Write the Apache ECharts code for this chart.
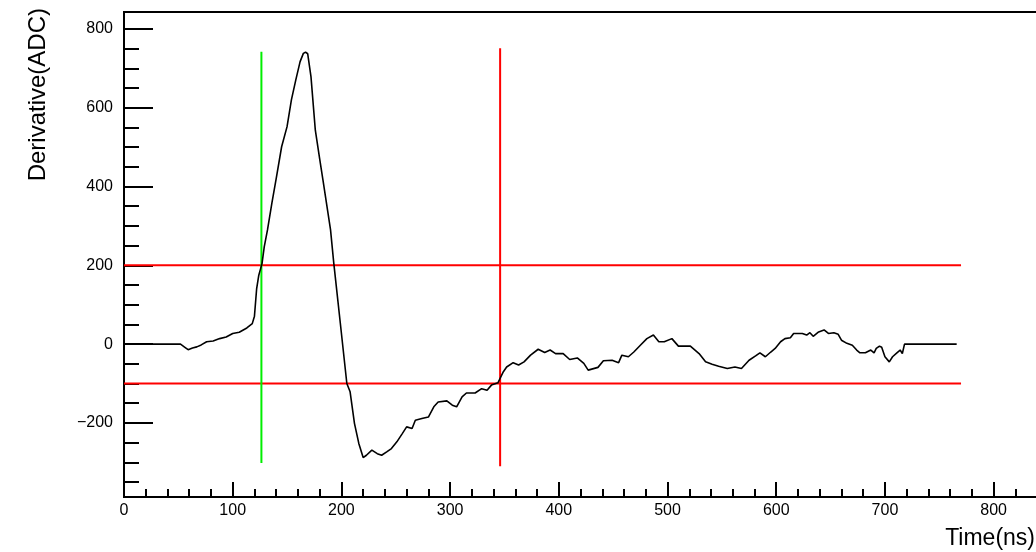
<!DOCTYPE html>
<html>
<head>
<meta charset="utf-8">
<title>Derivative</title>
<script src="https://cdn.jsdelivr.net/npm/echarts@6.0.0/dist/echarts.min.js"></script>
<style>
  html, body { margin: 0; padding: 0; background: #fff; }
  #chart { width: 1036px; height: 552px; }
</style>
</head>
<body>
<div id="chart"></div>
<script>
// derivative waveform
const timeNs = [
  0, 52, 56, 59, 63, 67, 71, 76, 82, 88, 94, 100, 106, 113, 118, 120, 122, 124, 127, 129,
  132, 136, 140, 145, 150, 154, 158, 162, 165, 167, 169, 172, 176, 180, 183, 190, 193, 199, 205, 208,
  212, 216, 220, 223, 228, 233, 237, 242, 246, 251, 256, 260, 265, 268, 274, 280, 285, 289, 297, 302,
  306, 311, 315, 323, 329, 334, 338, 344, 349, 352, 358, 363, 368, 374, 381, 387, 392, 397, 404, 410,
  417, 423, 427, 436, 441, 449, 455, 458, 464, 469, 475, 481, 487, 492, 497, 504, 510, 521, 529, 535,
  541, 547, 555, 562, 568, 575, 581, 585, 590, 595, 599, 604, 608, 613, 616, 624, 628, 631, 634, 639,
  644, 648, 653, 657, 660, 665, 670, 674, 677, 682, 687, 690, 692, 695, 697, 700, 704, 707, 711, 714,
  716, 718, 766
];
const derivative = [
  0, 0, -8, -14, -10, -7, -2, 6, 8, 14, 18, 27, 30, 41, 52, 71, 140, 175, 205, 247,
  290, 357, 420, 501, 552, 620, 670, 717, 738, 741, 737, 679, 543, 470, 417, 290, 205, 53, -100, -121,
  -201, -252, -288, -282, -269, -278, -282, -273, -265, -248, -227, -210, -214, -193, -189, -185, -159, -147, -144, -155,
  -159, -134, -124, -124, -113, -117, -104, -98, -70, -58, -47, -53, -45, -28, -13, -21, -15, -24, -24, -39,
  -35, -49, -66, -59, -42, -41, -47, -28, -32, -20, -3, 14, 23, 6, 6, 14, -5, -5, -24, -45,
  -51, -56, -62, -58, -62, -41, -30, -22, -32, -20, -11, 6, 14, 16, 27, 27, 23, 29, 20, 31,
  36, 27, 29, 25, 10, 2, -3, -15, -22, -22, -15, -22, -11, -5, -8, -32, -45, -32, -22, -15,
  -24, 0, 0
];

// threshold / marker lines
const thresholdHigh = [[0, 200], [770, 200]];
const thresholdLow = [[0, -100], [770, -100]];
const startMarker = [[126.4, -302], [126.4, 742]];
const endMarker = [[346, -310], [346, 751]];

// axis ticks
const xLabels = [0, 100, 200, 300, 400, 500, 600, 700, 800];
const yLabels = [-200, 0, 200, 400, 600, 800];
const yMinor = [-350, -300, -250, -150, -100, -50, 50, 100, 150, 250, 300, 350,
  450, 500, 550, 650, 700, 750];

const X_MIN = 0, X_MAX = 850;
const Y_MIN = -388, Y_MAX = 843;

const xMinor = [];
for (let v = 20; v < X_MAX; v += 20) {
  if (v % 100 !== 0) xMinor.push(v);
}

const FONT = '"Liberation Sans", Arial, Helvetica, sans-serif';
const chart = echarts.init(document.getElementById('chart'), null, { renderer: 'canvas' });

const option = {
  animation: false,
  backgroundColor: '#fff',
  grid: {
    left: 124,
    top: 12,
    width: 924,
    height: 485,
    outerBoundsMode: 'none',
    containLabel: false,
    show: true,
    borderColor: '#000',
    borderWidth: 2,
    backgroundColor: 'transparent'
  },
  xAxis: [
    {
      type: 'value',
      min: X_MIN,
      max: X_MAX,
      position: 'bottom',
      axisLine: { onZero: false, lineStyle: { color: '#000', width: 2 } },
      axisTick: { inside: true, length: 15, customValues: xLabels, lineStyle: { color: '#000', width: 2 } },
      axisLabel: { customValues: xLabels, margin: 6, color: '#000', fontSize: 16, fontFamily: FONT },
      splitLine: { show: false }
    },
    {
      type: 'value',
      min: X_MIN,
      max: X_MAX,
      position: 'bottom',
      axisLine: { show: false, onZero: false },
      axisTick: { inside: true, length: 8, customValues: xMinor, lineStyle: { color: '#000', width: 2 } },
      axisLabel: { show: false },
      splitLine: { show: false }
    }
  ],
  yAxis: [
    {
      type: 'value',
      min: Y_MIN,
      max: Y_MAX,
      position: 'left',
      axisLine: { show: true, onZero: false, lineStyle: { color: '#000', width: 2 } },
      axisTick: { show: true, inside: true, length: 29, customValues: yLabels, lineStyle: { color: '#000', width: 2 } },
      axisLabel: {
        customValues: yLabels,
        margin: 11,
        color: '#000',
        fontSize: 16,
        fontFamily: FONT,
        formatter: v => String(v).replace('-', '\u2212')
      },
      splitLine: { show: false }
    },
    {
      type: 'value',
      min: Y_MIN,
      max: Y_MAX,
      position: 'left',
      axisLine: { show: false, onZero: false },
      axisTick: { show: true, inside: true, length: 15, customValues: yMinor, lineStyle: { color: '#000', width: 2 } },
      axisLabel: { show: false },
      splitLine: { show: false }
    }
  ],
  graphic: [
    {
      type: 'text',
      x: 38,
      y: 8,
      rotation: Math.PI / 2,
      style: {
        text: 'Derivative(ADC)',
        align: 'right',
        verticalAlign: 'middle',
        fill: '#000',
        font: '24px ' + FONT
      }
    },
    {
      type: 'text',
      x: 1035,
      y: 550,
      style: {
        text: 'Time(ns)',
        align: 'right',
        verticalAlign: 'bottom',
        fill: '#000',
        font: '23px ' + FONT
      }
    }
  ],
  series: [
    {
      name: 'thresholdHigh',
      type: 'line',
      data: thresholdHigh,
      symbol: 'none',
      lineStyle: { color: '#ff0000', width: 2 },
      z: 3
    },
    {
      name: 'thresholdLow',
      type: 'line',
      data: thresholdLow,
      symbol: 'none',
      lineStyle: { color: '#ff0000', width: 2 },
      z: 3
    },
    {
      name: 'start',
      type: 'line',
      data: startMarker,
      symbol: 'none',
      lineStyle: { color: '#00ee00', width: 2 },
      z: 3
    },
    {
      name: 'end',
      type: 'line',
      data: endMarker,
      symbol: 'none',
      lineStyle: { color: '#ff0000', width: 2 },
      z: 3
    },
    {
      name: 'derivative',
      type: 'line',
      data: timeNs.map((t, i) => [t, derivative[i]]),
      symbol: 'none',
      lineStyle: { color: '#000', width: 1.6 },
      z: 4
    }
  ]
};

chart.setOption(option);
</script>
</body>
</html>
